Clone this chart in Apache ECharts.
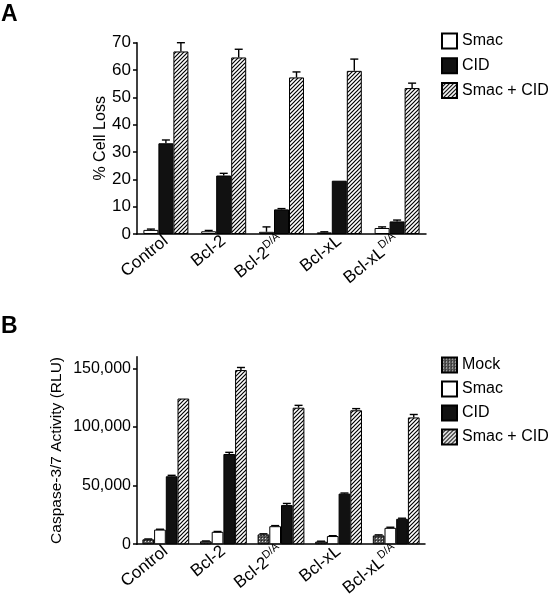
<!DOCTYPE html>
<html><head><meta charset="utf-8">
<script src="https://cdn.jsdelivr.net/npm/echarts@6/dist/echarts.min.js"></script>
<style>html,body{margin:0;padding:0;background:#fff}#c{width:550px;height:599px}</style>
</head><body><div id="c"></div>
<script>
// ---- data ----
const categories = ['Control', 'Bcl-2', 'Bcl-2^D/A', 'Bcl-xL', 'Bcl-xL^D/A'];
// Panel A: % Cell Loss
const aSmac = [1.5, 1.0, 0.8, 0.6, 2.2];
const aSmacErr = [0.3, 0.3, 1.8, 0.2, 0.4];
const aCID = [33.2, 21.4, 9.0, 19.5, 4.6];
const aCIDErr = [1.2, 0.8, 0.3, 0, 0.5];
const aSmacCID = [66.8, 64.6, 57.3, 59.7, 53.4];
const aSmacCIDErr = [3.2, 3.0, 2.0, 4.3, 1.8];
const aTicks = [0, 10, 20, 30, 40, 50, 60, 70];
// Panel B: Caspase-3/7 Activity (RLU)
const bMock = [4200, 2500, 8400, 2300, 7500];
const bMockErr = [300, 300, 500, 300, 500];
const bSmac = [12500, 10600, 15400, 7000, 14000];
const bSmacErr = [300, 300, 500, 300, 500];
const bCID = [58000, 77000, 33400, 43200, 21700];
const bCIDErr = [800, 1400, 1400, 500, 500];
const bSmacCID = [124300, 148600, 116500, 114300, 108200];
const bSmacCIDErr = [0, 2200, 2000, 1400, 2500];
const bTicks = [0, 50000, 100000, 150000];

// ---- patterns ----
function hatch() {
  const c = document.createElement('canvas'); c.width = 4; c.height = 4;
  const g = c.getContext('2d');
  g.fillStyle = '#fff'; g.fillRect(0, 0, 4, 4);
  g.strokeStyle = '#000'; g.lineWidth = 1.2;
  g.beginPath();
  g.moveTo(-1, 5); g.lineTo(5, -1);
  g.moveTo(-1, 1); g.lineTo(1, -1);
  g.moveTo(3, 5); g.lineTo(5, 3);
  g.stroke();
  return { image: c, repeat: 'repeat' };
}
function dots() {
  const c = document.createElement('canvas'); c.width = 3; c.height = 3;
  const g = c.getContext('2d');
  g.fillStyle = '#555'; g.fillRect(0, 0, 3, 3);
  g.fillStyle = '#ddd'; g.fillRect(1, 1, 1, 1);
  g.fillStyle = '#222'; g.fillRect(0, 0, 1, 1);
  return { image: c, repeat: 'repeat' };
}
const FONT = 'Liberation Sans, Arial, Helvetica, sans-serif';
const styles = {
  'Mock': { color: dots() },
  'Smac': { color: '#fff' },
  'CID': { color: '#111' },
  'Smac + CID': { color: hatch() }
};

const chart = echarts.init(document.getElementById('c'), null, { renderer: 'canvas' });

function labelFmt(v) {
  const i = v.indexOf('^');
  return i < 0 ? v : v.slice(0, i) + '{sup|' + v.slice(i + 1) + '}';
}
function xAxisCfg(gi) {
  return {
    type: 'category', gridIndex: gi, data: categories,
    axisLine: { lineStyle: { color: '#000', width: 1.5 } },
    axisTick: { alignWithLabel: true, length: 5, lineStyle: { color: '#000', width: 1.5 } },
    axisLabel: {
      rotate: 39, margin: 5, color: '#000', fontSize: 17, fontFamily: FONT,
      formatter: labelFmt, interval: 0,
      rich: { sup: { fontSize: 11, fontFamily: FONT, color: '#000', padding: [0, 0, 10, 0] } }
    }
  };
}

function barSeries(name, data, gi, bw) {
  return {
    type: 'bar', name, data, xAxisIndex: gi, yAxisIndex: gi, barWidth: bw, barGap: '0%',
    itemStyle: { color: styles[name].color, borderColor: '#000', borderWidth: 1 },
    emphasis: { disabled: true }, animation: false
  };
}
function errSeries(vals, errs, gi, i, n, bw) {
  const data = vals.map((v, k) => [k, v, errs[k]]);
  const off = (i - (n - 1) / 2) * bw;
  return {
    type: 'custom', xAxisIndex: gi, yAxisIndex: gi, data, z: 5, animation: false,
    encode: { x: 0, y: 1 }, silent: true,
    renderItem(params, api) {
      const idx = api.value(0), v = api.value(1), e = api.value(2);
      if (!e) return null;
      const p0 = api.coord([idx, v]), p1 = api.coord([idx, v + e]);
      const x = p0[0] + off;
      const st = { stroke: '#000', lineWidth: 1.4 };
      return { type: 'group', children: [
        { type: 'line', shape: { x1: x, y1: p0[1], x2: x, y2: p1[1] }, style: st },
        { type: 'line', shape: { x1: x - 4, y1: p1[1], x2: x + 4, y2: p1[1] }, style: st }
      ] };
    }
  };
}

const bwA = 15, bwB = 11.7;
const series = [
  barSeries('Smac', aSmac, 0, bwA),
  barSeries('CID', aCID, 0, bwA),
  barSeries('Smac + CID', aSmacCID, 0, bwA),
  errSeries(aSmac, aSmacErr, 0, 0, 3, bwA),
  errSeries(aCID, aCIDErr, 0, 1, 3, bwA),
  errSeries(aSmacCID, aSmacCIDErr, 0, 2, 3, bwA),
  barSeries('Mock', bMock, 1, bwB),
  barSeries('Smac', bSmac, 1, bwB),
  barSeries('CID', bCID, 1, bwB),
  barSeries('Smac + CID', bSmacCID, 1, bwB),
  errSeries(bMock, bMockErr, 1, 0, 4, bwB),
  errSeries(bSmac, bSmacErr, 1, 1, 4, bwB),
  errSeries(bCID, bCIDErr, 1, 2, 4, bwB),
  errSeries(bSmacCID, bSmacCIDErr, 1, 3, 4, bwB)
];

const legendBase = {
  orient: 'vertical', left: 441, padding: 0, itemWidth: 15, itemHeight: 15, icon: 'rect',
  selectedMode: false,
  textStyle: { fontSize: 16, color: '#000', fontFamily: FONT }
};

chart.setOption({
  animation: false,
  textStyle: { fontFamily: FONT },
  graphic: [
    { type: 'text', left: 1, top: 3, style: { text: 'A', fontSize: 23, fontWeight: 'bold', fill: '#000', fontFamily: FONT } },
    { type: 'text', left: 1, top: 315, style: { text: 'B', fontSize: 23, fontWeight: 'bold', fill: '#000', fontFamily: FONT } }
  ],
  legend: [
    Object.assign({}, legendBase, { top: 32.5, itemGap: 7.8, data: ['Smac', 'CID', 'Smac + CID'] }),
    Object.assign({}, legendBase, { top: 356.5, itemGap: 7, data: ['Mock', 'Smac', 'CID', 'Smac + CID'] })
  ],
  grid: [
    { left: 137, top: 42.7, width: 289, height: 191.3 },
    { left: 137, top: 356.7, width: 288, height: 191 }
  ],
  xAxis: [xAxisCfg(0), xAxisCfg(1)],
  yAxis: [
    {
      type: 'value', gridIndex: 0, min: 0, max: 70, interval: 10,
      name: '% Cell Loss', nameLocation: 'middle', nameGap: 28, nameMoveOverlap: false,
      nameTextStyle: { fontSize: 16, color: '#000', fontFamily: FONT },
      axisLine: { show: true, lineStyle: { color: '#000', width: 1.5 } },
      axisTick: { show: true, length: 4, customValues: aTicks, lineStyle: { color: '#000', width: 1.5 } },
      axisLabel: { customValues: aTicks, color: '#000', fontSize: 17, margin: 6, fontFamily: FONT },
      splitLine: { show: false }
    },
    {
      type: 'value', gridIndex: 1, min: 0, max: 160000, interval: 50000,
      name: 'Caspase-3/7 Activity (RLU)', nameLocation: 'middle', nameGap: 72, nameMoveOverlap: false,
      nameTextStyle: { fontSize: 15.5, color: '#000', fontFamily: FONT },
      axisLine: { show: true, lineStyle: { color: '#000', width: 1.5 } },
      axisTick: { show: true, length: 4, customValues: bTicks, lineStyle: { color: '#000', width: 1.5 } },
      axisLabel: { customValues: bTicks, color: '#000', fontSize: 16, margin: 6, fontFamily: FONT,
        formatter: v => Number(v).toLocaleString('en-US') },
      splitLine: { show: false }
    }
  ],
  series
});
</script></body></html>
